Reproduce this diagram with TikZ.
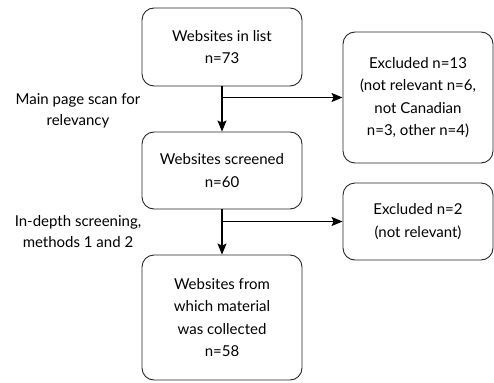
\documentclass[tikz,border=0pt]{standalone}
\usepackage{fontspec}
\setmainfont{Lato}
\usetikzlibrary{arrows.meta}
\tikzset{
  flowbox/.style={draw=black!85,line width=0.9pt,rounded corners=12pt,align=center,
    inner sep=0pt,font=\fontsize{15}{22.5}\selectfont},
  sidetext/.style={align=center,font=\fontsize{15}{21}\selectfont},
  flowarrow/.style={line width=1.1pt,-{Stealth[length=11pt,width=9pt,inset=2pt]}}
}
\begin{document}
\begin{tikzpicture}[x=1pt,y=-1pt]
  \useasboundingbox (0,0) rectangle (494,382);

  \node[flowbox,minimum width=160pt,minimum height=78pt] (inlist) at (222,47) {Websites in list\\n=73};
  \node[flowbox,minimum width=160pt,minimum height=77pt] (screened) at (222,170.5) {Websites screened\\n=60};
  \node[flowbox,minimum width=160pt,minimum height=125pt] (collected) at (222,317.5) {Websites from\\which material\\was collected\\n=58};
  \node[flowbox,minimum width=150pt,minimum height=131pt] (excla) at (418,97.5) {Excluded n=13\\(not relevant n=6,\\not Canadian\\n=3, other n=4)};
  \node[flowbox,minimum width=150pt,minimum height=77pt] (exclb) at (418,221.5) {Excluded n=2\\(not relevant)};

  \node[sidetext] (scanlbl) at (78,111) {Main page scan for\\relevancy};
  \node[sidetext] (depthlbl) at (78,232) {In-depth screening,\\methods 1 and 2};

  \coordinate (splita) at (inlist.south |- excla.west);
  \coordinate (splitb) at (screened.south |- exclb.west);

  \draw[flowarrow] (inlist.south) -- (screened.north);
  \draw[flowarrow] (splita) -- (excla.west);
  \draw[flowarrow] (screened.south) -- (collected.north);
  \draw[flowarrow] (splitb) -- (exclb.west);
\end{tikzpicture}
\end{document}
